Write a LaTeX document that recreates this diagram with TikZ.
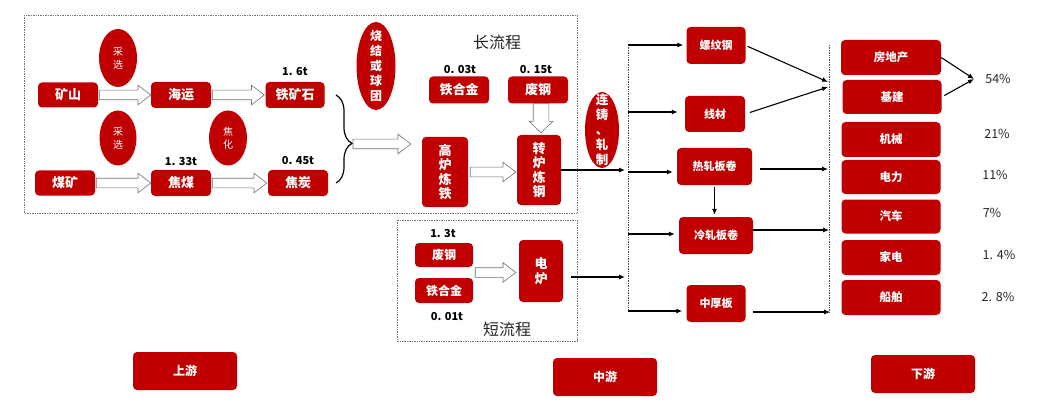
\documentclass[tikz,border=0pt]{standalone}
\usepackage{fontspec}
\setmainfont{Noto Sans CJK SC}
\usetikzlibrary{shapes.geometric,shapes.arrows,decorations.pathreplacing,calc,arrows.meta}
\definecolor{boxred}{HTML}{C00000}
\newcommand\blockarr[3][]{\path let \p1=(#2), \p2=(#3), \n1={atan2(\y2-\y1,\x2-\x1)}, \n2={veclen(\x2-\x1,\y2-\y1)} in node[hollow,#1, minimum height=\n2, rotate=\n1, anchor=tail] at (\p1) {};}
\begin{document}
\begin{tikzpicture}[x=1pt,y=-1pt,
 rbox/.style={fill=boxred, rounded corners=4pt, text=white, font=\bfseries\fontsize{13}{14.5}\selectfont, inner sep=0pt, align=center},
 sbox/.style={rbox, font=\bfseries\fontsize{11}{13}\selectfont},
 ell/.style={ellipse, fill=boxred, inner sep=0pt},
 etext/.style={text=white, align=center, inner sep=0pt},
 num/.style={font=\bfseries\fontsize{11}{13}\selectfont},
 pct/.style={font=\fontsize{12.5}{14}\selectfont, text=black!85},
 ttl/.style={font=\fontsize{16}{18}\selectfont, text=black!85},
 hollow/.style={single arrow, draw=black!55, fill=white, line width=0.6pt, inner xsep=0pt, inner ysep=4.5pt, single arrow head extend=5pt, single arrow tip angle=75, outer sep=0pt},
 conn/.style={line width=1.1pt, -{Latex[length=6pt,width=5pt]}},
 dotbox/.style={draw=black!55, densely dotted, line width=0.7pt},
]
\useasboundingbox (0,0) rectangle (1048,414);

% dotted frames
\draw[dotbox] (24,15) rectangle (577,213);
\draw[dotbox] (397,220) rectangle (577,341);

% upstream
\node[rbox, minimum width=60, minimum height=25] (ks) at (68,95) {矿山};
\node[rbox, minimum width=60, minimum height=26] (hy) at (181,95) {海运};
\node[rbox, minimum width=59, minimum height=26] (tks) at (295,95) {铁矿石};
\node[rbox, minimum width=60, minimum height=25] (mk) at (65,183) {煤矿};
\node[rbox, minimum width=60, minimum height=26] (jm) at (181,183) {焦煤};
\node[rbox, minimum width=60, minimum height=26] (jt) at (298,183) {焦炭};

\node[ell, minimum width=38, minimum height=58, label={[etext, font=\fontsize{10}{13}\selectfont]center:采\\选}] (cx1) at (118,58) {};
\node[ell, minimum width=37, minimum height=55, label={[etext, font=\fontsize{10}{13}\selectfont]center:采\\选}] (cx2) at (118,138) {};
\node[ell, minimum width=38, minimum height=55, label={[etext, font=\fontsize{10}{13}\selectfont]center:焦\\化}] (jh) at (228,138) {};
\node[ell, minimum width=39, minimum height=88, label={[etext, font=\bfseries\fontsize{12}{15}\selectfont]center:烧\\结\\或\\球\\团}] (sj) at (376,66) {};
\node[ell, minimum width=34, minimum height=76, label={[etext, font=\bfseries\fontsize{12.5}{15}\selectfont]center:连\\铸\\、\\轧\\制}] (lz) at (602,130) {};

\node[num] (n16) at (295,72) {1. 6t};
\node[num] (n133) at (181,162) {1. 33t};
\node[num] (n045) at (298,161) {0. 45t};

\blockarr{$(ks.east)+(1,0)$}{hy.west}
\blockarr{$(hy.east)+(1,0)$}{$(tks.west)+(-1,0)$}
\blockarr{$(mk.east)+(1,0)$}{jm.west}
\blockarr{$(jm.east)+(1,0)$}{$(jt.west)+(-1,0)$}

% brace
\coordinate (btop) at (336,95);
\coordinate (bbot) at (336,183);
\draw[line width=1.2pt, decorate, decoration={brace, amplitude=16pt, aspect=0.55}] (btop) -- (bbot);
\coordinate (btip) at (353,144);

% long process
\node[ttl] (clc) at (497,42) {长流程};
\node[num] (n003) at (460,70) {0. 03t};
\node[num] (n015) at (536,70) {0. 15t};
\node[rbox, minimum width=60, minimum height=27] (thj1) at (459,90) {铁合金};
\node[rbox, minimum width=60, minimum height=27] (fg1) at (538,90) {废钢};
\node[rbox, minimum width=46, minimum height=70] (gl) at (445,172) {高\\炉\\炼\\铁};
\node[rbox, minimum width=44, minimum height=70] (zl) at (539,170) {转\\炉\\炼\\钢};

\blockarr{btip}{$(gl.west |- btip)+(-11,0)$}
\blockarr{$(gl.east)+(2,0)$}{$(gl.east -| zl.west)+(-1,0)$}
\blockarr[inner ysep=7.5pt, single arrow head extend=4pt, single arrow tip angle=92]{$(fg1.south)+(3,0)$}{$(fg1.south |- zl.north)+(3,-2)$}

% short process
\node[ttl] (dlc) at (507,329) {短流程};
\node[num] (n13) at (443,234) {1. 3t};
\node[num] (n001) at (447,317) {0. 01t};
\node[rbox, font=\bfseries\fontsize{12}{14}\selectfont, minimum width=58, minimum height=24] (fg2) at (444,255) {废钢};
\node[rbox, font=\bfseries\fontsize{12}{14}\selectfont, minimum width=58, minimum height=25] (thj2) at (444,290.5) {铁合金};
\node[rbox, minimum width=44, minimum height=62] (dl) at (541,271) {电\\炉};
\coordinate (sm) at ($(fg2.south east)!0.5!(thj2.north east)$);
\blockarr{$(sm)+(2,0)$}{$(sm -| dl.west)+(-3,0)$}

% midstream
\coordinate (Ltop) at (628,45);
\coordinate (L2) at (628,112);
\coordinate (L3) at (628,172);
\coordinate (L4) at (628,234);
\coordinate (Lbot) at (628,311);
\draw[dotbox, draw=black!70] (Ltop) -- (Lbot);

\node[sbox, minimum width=59, minimum height=37] (lwg) at (716,45.5) {螺纹钢};
\node[sbox, minimum width=60, minimum height=36] (xc) at (715,114) {线材};
\node[sbox, minimum width=75, minimum height=37] (rz) at (714.5,166.5) {热轧板卷};
\node[sbox, minimum width=74, minimum height=37] (lzb) at (716,235.5) {冷轧板卷};
\node[sbox, minimum width=59, minimum height=37] (zhb) at (716,303.5) {中厚板};

\draw[conn, shorten >=3pt] (Ltop) -- (Ltop -| lwg.west);
\draw[conn, shorten >=7pt] (L2) -- (L2 -| xc.west);
\draw[conn, shorten >=4pt] (L3) -- (L3 -| rz.west);
\draw[conn, shorten >=4pt] (L4) -- (L4 -| lzb.west);
\draw[conn, shorten >=4pt] (Lbot) -- (Lbot -| zhb.west);
\draw[conn, shorten >=3pt] (zl.east) -- (zl.east -| Ltop);
\draw[conn, shorten <=8pt, shorten >=3pt] ([yshift=-6pt]dl.east) -- ([yshift=-6pt]dl.east -| Ltop);
\draw[conn, shorten <=2pt, shorten >=2pt] (rz.south) -- (rz.south |- lzb.north);

\coordinate (Rtop) at (829,45);
\coordinate (Rbot) at (829,312);
\coordinate (R1) at (828,82);
\coordinate (R2) at (828,87);
\coordinate (R3) at (828,169);
\coordinate (R4) at (829,230);
\coordinate (R5) at (830,312);
\draw[dotbox, draw=black!70] (Rtop) -- (Rbot);
\draw[conn, shorten <=2pt] (lwg.east) -- (R1);
\draw[conn, shorten <=5pt] (xc.east) -- (R2);
\draw[conn, shorten <=8pt] (R3 -| rz.east) -- (R3);
\draw[conn] (R4 -| lzb.east) -- (R4);
\draw[conn, shorten <=7pt] (R5 -| zhb.east) -- (R5);

% downstream
\node[sbox, font=\bfseries\fontsize{11.5}{13}\selectfont, minimum width=100, minimum height=35] (fdc) at (891,57.5) {房地产};
\node[sbox, font=\bfseries\fontsize{11.5}{13}\selectfont, minimum width=99, minimum height=34] (jj) at (892,97) {基建};
\node[sbox, font=\bfseries\fontsize{11.5}{13}\selectfont, minimum width=99, minimum height=35] (jx) at (891,139.5) {机械};
\node[sbox, font=\bfseries\fontsize{11.5}{13}\selectfont, minimum width=99, minimum height=34] (dli) at (891,177) {电力};
\node[sbox, font=\bfseries\fontsize{11.5}{13}\selectfont, minimum width=99, minimum height=34] (qc) at (891,216.5) {汽车};
\node[sbox, font=\bfseries\fontsize{11.5}{13}\selectfont, minimum width=99, minimum height=35] (jd) at (891,257.5) {家电};
\node[sbox, font=\bfseries\fontsize{11.5}{13}\selectfont, minimum width=99, minimum height=35] (cb) at (891,297.5) {船舶};

\coordinate (P) at (974,79);
\draw[conn] (fdc.east) -- (P);
\draw[conn, shorten <=3pt] (jj.east) -- (P);

\node[pct] (p54) at (998,79) {54\%};
\node[pct] (p21) at (997,134) {21\%};
\node[pct] (p11) at (995,175) {11\%};
\node[pct] (p7) at (992,213) {7\%};
\node[pct] (p14) at (999,255) {1. 4\%};
\node[pct] (p28) at (998,297) {2. 8\%};

% stage labels
\node[sbox, font=\bfseries\fontsize{12}{14}\selectfont, minimum width=104, minimum height=38] (sy) at (185,371) {上游};
\node[sbox, font=\bfseries\fontsize{12}{14}\selectfont, minimum width=104, minimum height=38] (zy) at (605,377) {中游};
\node[sbox, font=\bfseries\fontsize{12}{14}\selectfont, minimum width=104, minimum height=38] (xy) at (923,374) {下游};
\end{tikzpicture}
\end{document}
